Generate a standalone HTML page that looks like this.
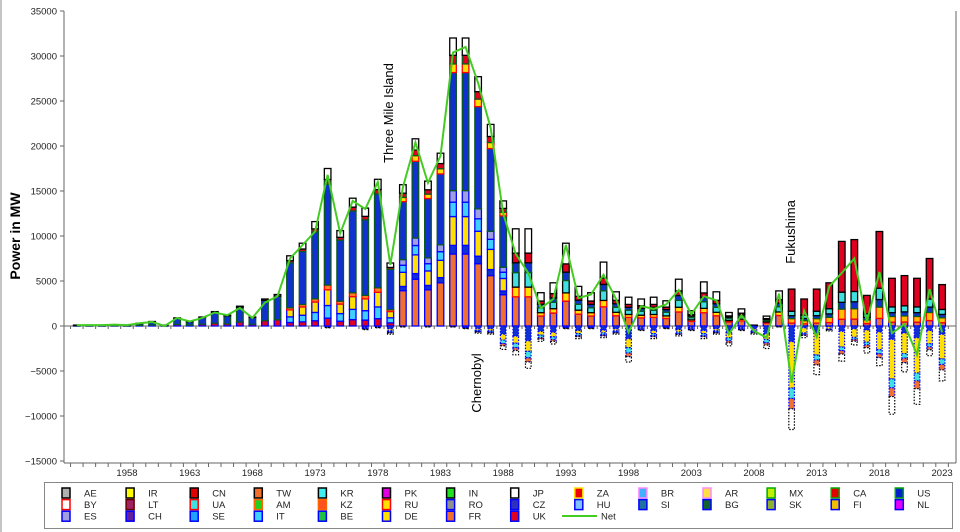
<!DOCTYPE html>
<html><head><meta charset="utf-8"><style>
html,body{margin:0;padding:0;background:#fff;}
svg{display:block;font-family:"Liberation Sans",sans-serif;}
</style></head><body>
<svg id="s" width="960" height="532" xmlns="http://www.w3.org/2000/svg"></svg>
<script>
const S=document.getElementById('s');let h='';
const X0=127,DX=12.54,Y0=326,K=0.009;
const yx=y=>X0+(y-1958)*DX, vy=v=>Y0-v*K;
h+='<rect x="0" y="0" width="960" height="532" fill="#fff"/>';
h+='<line x1="1" y1="0" x2="1" y2="532" stroke="#888"/>';
h+='<line x1="64" y1="11" x2="64" y2="463" stroke="#666"/>';
h+='<line x1="64" y1="463" x2="956" y2="463" stroke="#666"/>';
h+='<line x1="956" y1="11" x2="956" y2="463" stroke="#666"/>';
h+='<line x1="64" y1="326" x2="956" y2="326" stroke="#666"/>';
for(let v=-15000;v<=35000;v+=5000){let y=vy(v);h+=`<line x1="60" y1="${y}" x2="64" y2="${y}" stroke="#666"/><text x="57" y="${y+3.5}" font-size="9.5" text-anchor="end" fill="#222">${v<0?'\u2212'+(-v):v}</text>`;}
for(let yr=1953;yr<=2024;yr++){let x=yx(yr)-6.3;if(x<65||x>955)continue;h+=`<line x1="${x}" y1="463" x2="${x}" y2="467" stroke="#666"/><line x1="${x}" y1="326" x2="${x}" y2="329" stroke="#666"/>`;}
for(let yr=1958;yr<=2023;yr+=5)h+=`<text x="${yx(yr)}" y="476" font-size="9.5" text-anchor="middle" fill="#222">${yr}</text>`;
h+='<text transform="translate(20,236) rotate(-90)" font-size="14" font-weight="bold" text-anchor="middle">Power in MW</text>';
const D=[[1954,100,100,0],[1955,100,100,0],[1956,100,100,0],[1957,150,150,0],[1958,100,100,0],[1959,300,300,0],[1960,500,450,0],[1961,100,0,0],[1962,900,900,0],[1963,500,500,0],[1964,1000,900,0],[1965,1600,1500,0],[1966,1200,1200,0],[1967,2200,2000,0],[1968,1000,900,0],[1969,3000,2600,0],[1970,3500,3300,0],[1971,7800,7500,0],[1972,9200,9000,0],[1973,11600,10500,0],[1974,17500,16800,-200],[1975,10600,10300,0],[1976,14200,13900,0],[1977,13100,13000,-400],[1978,16300,16000,-200],[1979,7000,6800,-900],[1980,15700,15400,-100],[1981,20800,20400,0],[1982,16100,15900,-100],[1983,19200,18900,0],[1984,32000,30400,-100],[1985,32000,31000,-300],[1986,27700,27000,-800],[1987,22400,22000,-900],[1988,13900,12500,-2600],[1989,10800,8000,-3200],[1990,10800,5900,-4700],[1991,3700,2000,-1700],[1992,4800,3000,-2000],[1993,9200,9000,-300],[1994,4400,3100,-1400],[1995,3700,3500,-300],[1996,7100,5700,-1300],[1997,3800,3000,-900],[1998,3200,-700,-4000],[1999,3000,2200,-500],[2000,3200,1900,-1400],[2001,2800,2400,-300],[2002,5200,4000,-1100],[2003,1700,1300,-500],[2004,4900,3300,-1400],[2005,3800,2850,-900],[2006,1500,-900,-2200],[2007,1900,1200,-500],[2008,100,-550,-900],[2009,1100,-1300,-2500],[2010,3900,3600,-100],[2011,4100,-6300,-11500],[2012,3000,1700,-1300],[2013,4100,-1200,-5400],[2014,4800,4400,-550],[2015,9400,5900,-3900],[2016,9600,7500,-2100],[2017,3400,450,-3000],[2018,10500,6000,-4400],[2019,5300,-800,-9800],[2020,5600,200,-5100],[2021,5300,-3200,-8700],[2022,7500,4100,-3300],[2023,4600,-700,-6100]];
const P={
e:[['#e00020',.2,'#00f'],['#1030d0',.75,'#0a5a20'],['#fff',.05,'#000']],
u:[['#e00020',.05,'#00f'],['#40d0ff',.08,'#00f'],['#ffe000',.1,'#00f'],['#ff8020',.03,'#f00'],['#1030d0',.64,'#0a5a20'],['#e00020',.03,'#0a5a20'],['#fff',.07,'#000']],
f:[['#f07030',.25,'#00f'],['#1030d0',.03,'#00f'],['#ffe000',.1,'#00f'],['#40d0ff',.05,'#00f'],['#a0a0e0',.04,'#00f'],['#1030d0',.41,'#0a5a20'],['#ffe000',.03,'#f00'],['#e00020',.03,'#0a5a20'],['#fff',.06,'#000']],
m:[['#f07030',.3,'#00f'],['#ffe000',.1,'#f00'],['#40e0e0',.15,'#000'],['#1030d0',.1,'#0a5a20'],['#e00020',.1,'#000'],['#fff',.25,'#000']],
c:[['#f07030',.08,'#00f'],['#ffc000',.12,'#f00'],['#1030d0',.08,'#0a5a20'],['#40e0e0',.12,'#000'],['#e00020',.6,'#000']]};
const N1=[['#1030d0','#00f',.35],['#ffe000','#00f',.25],['#40e0e0','#00f',.15],['#f07030','#00f',.1],['#fff','#000',.15]];
const N2=[['#1030d0','#00f',.15],['#ffe000','#00f',.45],['#40e0e0','#00f',.1],['#f07030','#00f',.1],['#fff','#000',.2]];
let pts=[];
for(const [yr,top,net,neg] of D){
 const x=yx(yr)-3.3,w=6.6;
 const t=yr<=1970?'e':yr<=1979?'u':yr<=1988?'f':yr<=2010?'m':'c';
 let acc=0;
 for(const [c,f,b] of P[t]){const v=top*f;const y1=vy(acc+v),y2=vy(acc);h+=`<rect x="${x}" y="${y1}" width="${w}" height="${Math.max(y2-y1,0.3)}" fill="${c}" stroke="${b}" stroke-width="1.3"/>`;acc+=v;}
 if(neg<0){let a=0;(yr>=2011?N2:N1).forEach(([c,b,f])=>{const v=neg*f;const y1=vy(a),y2=vy(a+v);h+=`<rect x="${x+.5}" y="${y1}" width="${w-1}" height="${y2-y1}" fill="${c}" stroke="${b}" stroke-width="1.2" stroke-dasharray="1.5,1.5"/>`;a+=v;});}
 pts.push(yx(yr)+','+vy(net));
}
h+=`<polyline points="${pts.join(' ')}" fill="none" stroke="#44cc22" stroke-width="2"/>`;
h+='<text transform="translate(393,113) rotate(-90)" font-size="13" text-anchor="middle">Three Mile Island</text>';
h+='<text transform="translate(481,383) rotate(-90)" font-size="13" text-anchor="middle">Chernobyl</text>';
h+='<text transform="translate(795,232) rotate(-90)" font-size="13" text-anchor="middle">Fukushima</text>';
h+='<rect x="44.5" y="482.5" width="908" height="46" fill="#fff" stroke="#888"/>';
const L=[
[['AE','#b0b0b0','#000'],['BY','#fff','#f00'],['ES','#a0a0e0','#00f']],
[['IR','#ffff00','#000'],['LT','#a02060','#600'],['CH','#6020a0','#00f']],
[['CN','#e00000','#000'],['UA','#40e0e0','#f00'],['SE','#20a0ff','#00f']],
[['TW','#f07030','#000'],['AM','#20d020','#f60'],['IT','#40d0ff','#00f']],
[['KR','#40f0f0','#000'],['KZ','#ff5020','#f60'],['BE','#20c040','#00f']],
[['PK','#e000e0','#000'],['RU','#ffe000','#f00'],['DE','#ffe000','#00f']],
[['IN','#20e020','#000'],['RO','#909090','#00f'],['FR','#f07030','#00f']],
[['JP','#fff','#000'],['CZ','#3030c0','#00f'],['UK','#e00020','#00f']],
[['ZA','#f00000','#fd0'],['HU','#80c0ff','#00f']],
[['BR','#40b0ff','#f8f'],['SI','#2070a0','#00f']],
[['AR','#ffe040','#f8f'],['BG','#106030','#00f']],
[['MX','#c0f000','#0a0'],['SK','#90b030','#00f']],
[['CA','#e00000','#0a0'],['FI','#f0c000','#00f']],
[['US','#0020d0','#0a0'],['NL','#e000ff','#00f']]];
L.forEach((col,i)=>{const x=66+64.1*i;col.forEach(([n,f,b],j)=>{const y=493+j*11.6;h+=`<rect x="${x-4}" y="${y-5}" width="8" height="10" fill="${f}" stroke="${b}" stroke-width="1.5"/><text x="${x+18}" y="${y+3.5}" font-size="9.5" fill="#222">${n}</text>`;});});
h+='<line x1="562" y1="516" x2="597" y2="516" stroke="#44cc22" stroke-width="2"/><text x="601" y="519.5" font-size="9.5" fill="#222">Net</text>';
S.innerHTML=h;
</script>
</body></html>
